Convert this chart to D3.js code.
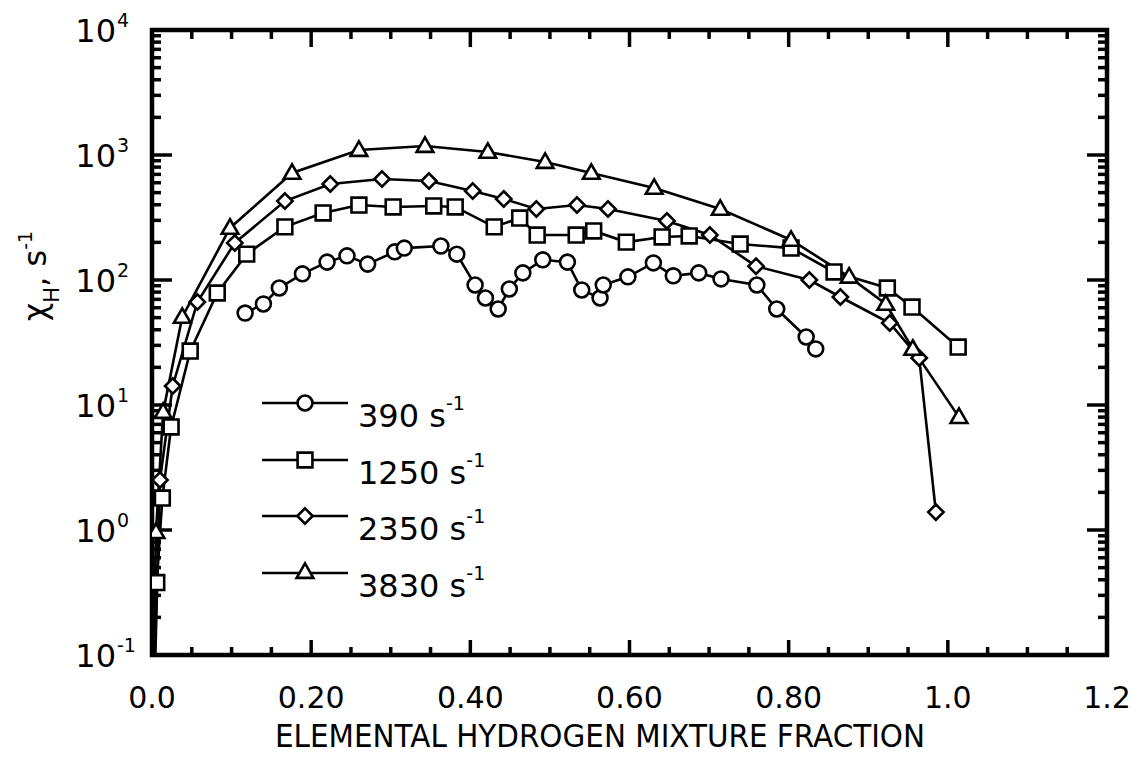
<!DOCTYPE html>
<html>
<head>
<meta charset="utf-8">
<script src="https://cdn.jsdelivr.net/npm/d3@7"></script>
<style>
  body { margin: 0; background: #fff; }
  svg text { font-family: "DejaVu Sans", sans-serif; fill: #000; }
</style>
</head>
<body>
<svg id="chart" width="1142" height="757"></svg>
<script>
// Data (mixture fraction, chi_H in 1/s)
const rate390 = [
  [0.117, 54.4], [0.140, 64.3], [0.160, 86.3], [0.189, 112], [0.220, 139],
  [0.245, 156], [0.271, 134], [0.305, 168], [0.317, 180], [0.363, 187],
  [0.383, 161], [0.406, 91.2], [0.419, 71.8], [0.435, 58.6], [0.449, 84.7],
  [0.466, 114], [0.491, 145], [0.522, 139], [0.540, 83.2], [0.563, 71.8],
  [0.567, 91.2], [0.598, 106], [0.630, 137], [0.655, 108], [0.687, 114],
  [0.715, 102], [0.760, 91.2], [0.785, 58.6], [0.822, 35.0], [0.834, 28.1]
]
const rate1250 = [
  [0.002, 0.05], [0.006, 0.38], [0.013, 1.80], [0.024, 6.67], [0.048, 27.0],
  [0.082, 78.7], [0.119, 161], [0.167, 266], [0.215, 344], [0.260, 398],
  [0.303, 384], [0.354, 391], [0.381, 384], [0.430, 266], [0.462, 313],
  [0.484, 229], [0.533, 229], [0.555, 247], [0.596, 201], [0.641, 221],
  [0.675, 225], [0.739, 194], [0.803, 180], [0.857, 116], [0.924, 86.3],
  [0.955, 60.8], [1.013, 29.1]
]
const rate2350 = [
  [0.003, 0.05], [0.010, 2.51], [0.026, 14.2], [0.057, 66.7], [0.104, 198],
  [0.167, 428], [0.224, 586], [0.289, 643], [0.348, 619], [0.403, 515],
  [0.442, 445], [0.483, 370], [0.534, 398], [0.573, 370], [0.647, 297],
  [0.701, 229], [0.759, 129], [0.826, 100], [0.865, 73.1], [0.927, 45.3],
  [0.964, 23.8], [0.985, 1.39]
]
const rate3830 = [
  [0.001, 0.05], [0.005, 0.96], [0.014, 8.79], [0.038, 50.6], [0.098, 261],
  [0.176, 718], [0.260, 1096], [0.343, 1180], [0.422, 1057], [0.494, 879],
  [0.552, 718], [0.631, 545], [0.714, 370], [0.803, 209], [0.876, 106],
  [0.922, 64.3], [0.956, 28.1], [1.014, 8.0]
]
const seriesLabels = ['390', '1250', '2350', '3830']
const seriesSymbols = ['circle', 'square', 'diamond', 'triangle']
const xTickLabels = ['0.0', '0.20', '0.40', '0.60', '0.80', '1.0', '1.2']
const yExponents = [-1, 0, 1, 2, 3, 4]

const svg = d3.select('#chart')
const plotLeft = 152, plotRight = 1107, plotTop = 30, plotBottom = 655

const x = d3.scaleLinear().domain([0, 1.2]).range([plotLeft, plotRight])
const y = d3.scaleLog().domain([0.1, 1e4]).range([plotBottom, plotTop])

svg.append('clipPath').attr('id', 'plotClip')
  .append('rect')
  .attr('x', plotLeft).attr('y', plotTop)
  .attr('width', plotRight - plotLeft).attr('height', plotBottom - plotTop)

// --- ticks (all inside the frame) ---
const xMajor = d3.range(0, 1.2001, 0.2)
const xMinor = d3.range(0, 1.2001, 0.05).filter(v => Math.abs(v / 0.2 - Math.round(v / 0.2)) > 1e-6)
const yMajor = yExponents.map(e => Math.pow(10, e))
const yMinor = []
yExponents.slice(0, -1).forEach(e => {
  for (let k = 2; k <= 9; k++) yMinor.push(k * Math.pow(10, e))
})

const tickG = svg.append('g').attr('stroke', '#000').attr('stroke-width', 3.5)
const xAll = xMajor.map(v => [v, true]).concat(xMinor.map(v => [v, false]))

// bottom and top
tickG.selectAll('.xb').data(xAll).join('line')
  .attr('x1', d => x(d[0])).attr('x2', d => x(d[0]))
  .attr('y1', plotBottom).attr('y2', d => plotBottom - (d[1] ? 15 : 8))
tickG.selectAll('.xt').data(xAll).join('line')
  .attr('x1', d => x(d[0])).attr('x2', d => x(d[0]))
  .attr('y1', plotTop).attr('y2', d => plotTop + (d[1] ? 17 : 9))

// left and right
const yAll = yMajor.map(v => [v, 20]).concat(yMinor.map(v => [v, 9]))
tickG.selectAll('.yl').data(yAll).join('line')
  .attr('x1', plotLeft).attr('x2', d => plotLeft + d[1])
  .attr('y1', d => y(d[0])).attr('y2', d => y(d[0]))
tickG.selectAll('.yr').data(yAll).join('line')
  .attr('x1', plotRight).attr('x2', d => plotRight - d[1])
  .attr('y1', d => y(d[0])).attr('y2', d => y(d[0]))

// frame
svg.append('rect')
  .attr('x', plotLeft).attr('y', plotTop)
  .attr('width', plotRight - plotLeft).attr('height', plotBottom - plotTop)
  .attr('fill', 'none').attr('stroke', '#000').attr('stroke-width', 4.5)

// x tick labels
svg.selectAll('.xlab').data(xMajor).join('text')
  .attr('x', d => x(d)).attr('y', 708)
  .attr('text-anchor', 'middle')
  .style('font-size', '30px')
  .text((d, i) => xTickLabels[i])

// y tick labels 10^n
yExponents.forEach(e => {
  svg.append('text')
    .attr('x', 116).attr('y', y(Math.pow(10, e)) + 12)
    .attr('text-anchor', 'end')
    .style('font-size', '32px')
    .text('10')
  svg.append('text')
    .attr('x', 117).attr('y', y(Math.pow(10, e)) - 3)
    .style('font-size', '19px')
    .text(e)
})

// axis titles
svg.append('text')
  .attr('x', 600).attr('y', 747)
  .attr('text-anchor', 'middle')
  .attr('textLength', 650).attr('lengthAdjust', 'spacingAndGlyphs')
  .style('font-size', '32px')
  .text('ELEMENTAL HYDROGEN MIXTURE FRACTION')

const yTitle = svg.append('text')
  .attr('transform', 'translate(46,276) rotate(-90)')
  .attr('text-anchor', 'middle')
  .style('font-size', '32px')
yTitle.append('tspan').text('χ')
yTitle.append('tspan').attr('dy', 13).style('font-size', '21px').text('H')
yTitle.append('tspan').attr('dy', -13).text(', s')
yTitle.append('tspan').attr('dy', -14).style('font-size', '19px').text('-1')

// --- series ---
const symbolTypes = {
  circle: d3.symbolCircle,
  square: d3.symbolSquare,
  diamond: d3.symbolDiamond2,
  triangle: d3.symbolTriangle2
}
const symbolSizes = { circle: 175, square: 220, diamond: 150, triangle: 200 }
const makeSymbol = s => d3.symbol().type(symbolTypes[s]).size(symbolSizes[s])

const allSeries = [rate390, rate1250, rate2350, rate3830]
const line = d3.line().x(d => x(d[0])).y(d => y(d[1]))

const plotG = svg.append('g').attr('clip-path', 'url(#plotClip)')

allSeries.forEach(data => {
  plotG.append('path')
    .datum(data)
    .attr('fill', 'none').attr('stroke', '#000').attr('stroke-width', 2.6)
    .attr('d', line)
})
allSeries.forEach((data, i) => {
  const sym = seriesSymbols[i]
  plotG.selectAll('.m' + i).data(data).join('path')
    .attr('transform', d => `translate(${x(d[0])},${y(d[1]) + (sym === 'triangle' ? 1 : 0)})`)
    .attr('d', makeSymbol(sym))
    .attr('fill', '#fff').attr('stroke', '#000').attr('stroke-width', 2.6)
})

// --- legend ---
const legendRows = [403, 460, 516, 573]
seriesLabels.forEach((lab, i) => {
  const ly = legendRows[i]
  svg.append('line')
    .attr('x1', 262).attr('x2', 348).attr('y1', ly).attr('y2', ly)
    .attr('stroke', '#000').attr('stroke-width', 2.6)
  svg.append('path')
    .attr('transform', `translate(305,${ly})`)
    .attr('d', makeSymbol(seriesSymbols[i]))
    .attr('fill', '#fff').attr('stroke', '#000').attr('stroke-width', 2.6)
  const t = svg.append('text')
    .attr('x', 358).attr('y', ly + 24)
    .style('font-size', '32px')
  t.append('tspan').text(lab + ' s')
  t.append('tspan').attr('dy', -17).style('font-size', '19px').text('-1')
})
</script>
</body>
</html>
